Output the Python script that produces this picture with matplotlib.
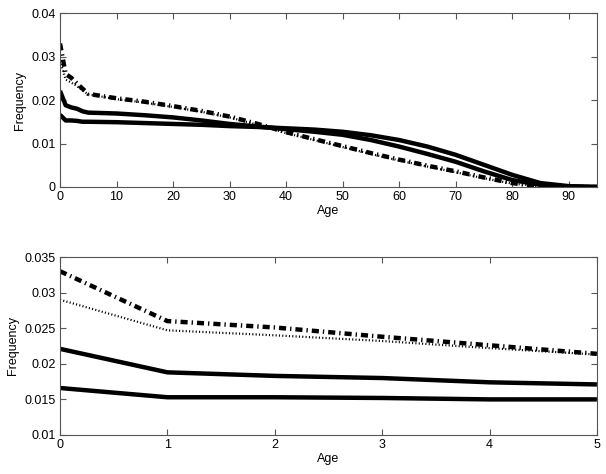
import matplotlib
matplotlib.use("Agg")
import matplotlib.pyplot as plt
from matplotlib.ticker import FuncFormatter

plt.rcParams["font.family"] = ["Liberation Sans", "DejaVu Sans"]
plt.rcParams["font.size"] = 9

# age grid used for the full-range panel
ages = [0, 1, 2, 3, 4, 5, 10, 15, 20, 25, 30, 35, 40, 45, 50, 55, 60, 65,
        70, 75, 80, 85, 90, 95]

# two solid series
solid_a = [0.0221, 0.0188, 0.0183, 0.0180, 0.0174, 0.0171, 0.0169, 0.0165,
           0.0160, 0.0153, 0.0145, 0.0139, 0.0133, 0.0127, 0.0120, 0.0108,
           0.0093, 0.0076, 0.0058, 0.0036, 0.0016, 0.0005, 0.0001, 0.0]
solid_b = [0.0166, 0.0153, 0.0153, 0.0152, 0.0150, 0.0150, 0.0149, 0.0147,
           0.0145, 0.0143, 0.0140, 0.0138, 0.0135, 0.0132, 0.0127, 0.0119,
           0.0108, 0.0093, 0.0074, 0.0051, 0.0028, 0.0009, 0.0002, 0.0]
# dash-dot and dotted series
dashdot = [0.0330, 0.0260, 0.0251, 0.0238, 0.0226, 0.0214, 0.0204, 0.0196,
           0.0186, 0.0175, 0.0162, 0.0145, 0.0126, 0.0110, 0.0094, 0.0078,
           0.0063, 0.0049, 0.0036, 0.0022, 0.0009, 0.0001, 0.0, 0.0]
dotted = [0.0290, 0.0247, 0.0240, 0.0232, 0.0222, 0.0213, 0.0202, 0.0194,
          0.0184, 0.0173, 0.0160, 0.0143, 0.0124, 0.0108, 0.0092, 0.0076,
          0.0061, 0.0047, 0.0034, 0.0020, 0.0008, 0.0001, 0.0, 0.0]

top_xticks = [0, 10, 20, 30, 40, 50, 60, 70, 80, 90]
top_yticks = [0, 0.01, 0.02, 0.03, 0.04]
bot_xticks = [0, 1, 2, 3, 4, 5]
bot_yticks = [0.01, 0.015, 0.02, 0.025, 0.03, 0.035]

fmt = FuncFormatter(lambda v, _: f"{v:g}")


def draw(ax, n):
    x = ages[:n]
    ax.plot(x, solid_a[:n], color="k", lw=3.2, solid_capstyle="butt")
    ax.plot(x, solid_b[:n], color="k", lw=3.2, solid_capstyle="butt")
    ax.plot(x, dotted[:n], color="k", lw=1.6, linestyle=(0, (0.5, 1.0)))
    ax.plot(x, dashdot[:n], color="k", lw=3.2, linestyle=(0, (1.6, 0.9, 0.3, 0.9)))
    for s in ax.spines.values():
        s.set_color("#555555")
        s.set_linewidth(0.8)
    ax.tick_params(direction="in", top=True, right=True, length=4,
                   color="#555555", labelsize=9, pad=3)
    ax.xaxis.set_major_formatter(fmt)
    ax.yaxis.set_major_formatter(fmt)
    ax.set_xlabel("Age", fontsize=9, labelpad=1)
    ax.set_ylabel("Frequency", fontsize=9, labelpad=4)


fig = plt.figure(figsize=(6.06, 4.74), dpi=100)

ax1 = fig.add_axes([0.099, 0.6055, 0.886, 0.367])
draw(ax1, len(ages))
ax1.set_xlim(0, 95)
ax1.set_ylim(0, 0.04)
ax1.set_xticks(top_xticks)
ax1.set_yticks(top_yticks)

ax2 = fig.add_axes([0.099, 0.0823, 0.886, 0.3755])
draw(ax2, 6)
ax2.set_xlim(0, 5)
ax2.set_ylim(0.01, 0.035)
ax2.set_xticks(bot_xticks)
ax2.set_yticks(bot_yticks)

fig.savefig("out.png", dpi=100)
